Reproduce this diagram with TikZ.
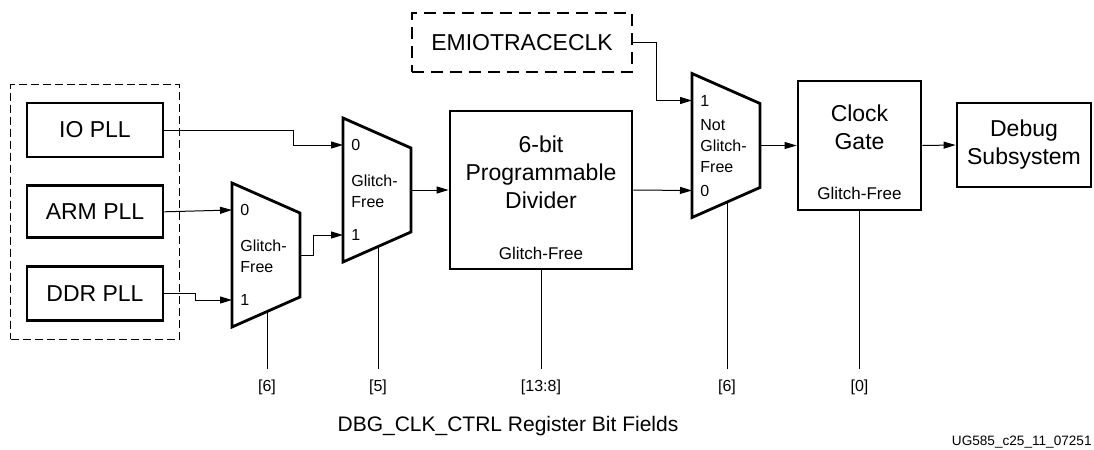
\documentclass[tikz,border=0pt]{standalone}
\usepackage{fontspec}
\setmainfont{Liberation Sans}
\usetikzlibrary{arrows.meta,positioning,calc,fit}

\begin{document}
\begin{tikzpicture}[x=0.5pt,y=-0.5pt,
  box/.style={draw,line width=1.4pt,align=center,inner sep=0pt,font=\fontsize{11.5}{14}\selectfont},
  dbox/.style={box,dash pattern=on 6pt off 3.5pt},
  txt/.style={inner sep=0pt,align=center,font=\fontsize{11.5}{14}\selectfont},
  gf/.style={inner sep=0pt,font=\fontsize{8.5}{10}\selectfont},
  small/.style={inner sep=0pt,align=left,font=\fontsize{8}{10.5}\selectfont},
  bits/.style={inner sep=5pt,font=\fontsize{8}{10}\selectfont},
  arr/.style={-{Triangle[length=6pt,width=3.5pt]},line width=0.5pt},
  sel/.style={line width=0.5pt},
  pics/mux/.style n args={3}{code={
    \draw[line width=1.4pt] (0,-72) -- (68,-42) -- (68,42) -- (0,72) -- cycle;
    \coordinate (-a) at (0,-45);
    \coordinate (-b) at (0,45);
    \coordinate (-out) at (68,0);
    \coordinate (-sel) at (35,57);
    \node[small,anchor=west] (-top) at (8,-45) {#1};
    \node[small,anchor=west] (-mid) at (8,1) {#2};
    \node[small,anchor=west] (-bot) at (8,45) {#3};
  }}]
  \useasboundingbox (0,0) rectangle (1094,450);

  % clock sources
  \node[box,minimum width=68pt,minimum height=27pt] (io) at (95,130) {IO PLL};
  \node[box,minimum width=68pt,minimum height=26pt,below=13pt of io] (arm) {ARM PLL};
  \node[box,minimum width=68pt,minimum height=27pt,below=13pt of arm] (ddr) {DDR PLL};
  \node[draw,line width=0.5pt,dash pattern=on 4pt off 2pt,fit=(io)(ddr),inner xsep=7.5pt,inner ysep=8.5pt] (pll) {};
  \node[dbox,minimum width=110pt,minimum height=29.5pt] (emio) at (522,42.5) {EMIOTRACECLK};

  % muxes
  \pic (m1) at (232,255) {mux={0}{Glitch-\\Free}{1}};
  \pic (m2) at (343,190) {mux={0}{Glitch-\\Free}{1}};
  \pic (m3) at (692,145.5) {mux={1}{Not\\Glitch-\\Free}{0}};

  % divider, gate, debug
  \node[box,minimum width=91pt,minimum height=79pt] (div) at (541,190) {};
  \node[txt] (divtxt) at (541,172) {6-bit\\Programmable\\Divider};
  \node[gf] (divgf) at (541,253) {Glitch-Free};
  \node[box,minimum width=61.5pt,minimum height=64.5pt] (cg) at (859.5,145.5) {};
  \node[txt] (cgtxt) at (859.5,127.5) {Clock\\Gate};
  \node[gf] (cggf) at (859.5,193) {Glitch-Free};
  \node[box,minimum width=67pt,minimum height=42pt] (dbg) at (1024,145) {Debug\\Subsystem};

  % register bits
  \node[bits] (bit1) at (m1-sel |- 0,387) {[6]};
  \node[bits] (bit2) at (m2-sel |- 0,387) {[5]};
  \node[bits] (bit3) at (div.south |- 0,387) {[13:8]};
  \node[bits] (bit4) at (m3-sel |- 0,387) {[6]};
  \node[bits] (bit5) at (cg.south |- 0,387) {[0]};
  \node[inner sep=0pt,font=\fontsize{10.5}{12}\selectfont] (title) at (508,426) {DBG\_CLK\_CTRL Register Bit Fields};
  \node[inner sep=0pt,anchor=east,font=\fontsize{6.8}{8}\selectfont] (figid) at (1092,442) {UG585\_c25\_11\_07251};

  \draw[arr] (io.east) -- ++(129,0) |- (m2-a);
  \draw[arr] (arm.east) -- (m1-a);
  \draw[arr] (ddr.east) -- ++(31,0) |- (m1-b);
  \draw[arr] (m1-out) -- ++(13,0) |- (m2-b);
  \draw[arr] (m2-out) -- (div.west);
  \draw[arr] (div.east) -- (m3-b);
  \draw[arr] (emio.east) -- ++(23,0) |- (m3-a);
  \draw[arr] (m3-out) -- (cg.west);
  \draw[arr] (cg.east) -- (dbg.west);
  \draw[sel] (m1-sel) -- (bit1.north);
  \draw[sel] (m2-sel) -- (bit2.north);
  \draw[sel] (div.south) -- (bit3.north);
  \draw[sel] (m3-sel) -- (bit4.north);
  \draw[sel] (cg.south) -- (bit5.north);
\end{tikzpicture}
\end{document}
